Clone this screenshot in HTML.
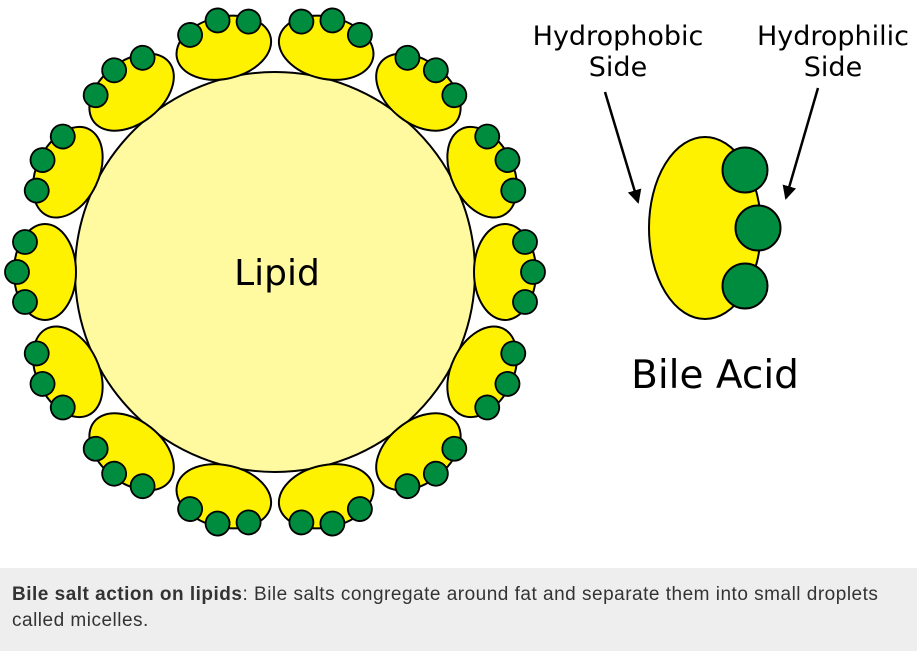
<!DOCTYPE html>
<html><head><style>
body{margin:0;width:917px;height:651px;background:#fff;overflow:hidden;font-family:"Liberation Sans",sans-serif}
.cap{position:absolute;left:0;top:568px;width:917px;height:83px;background:#eeeeee;box-sizing:border-box;padding:14px 6px 14px 12px;font-size:19px;letter-spacing:0.5px;line-height:26px;color:#333;white-space:nowrap}
</style></head><body>
<svg width="917" height="568" style="position:absolute;left:0;top:0">
<defs>
<marker id="ah" markerWidth="14" markerHeight="14" refX="12" refY="7" orient="auto" markerUnits="userSpaceOnUse"><path d="M0,0 L14,7 L0,14 Z" fill="#000"/></marker>
<g id="u">
<ellipse cx="0" cy="0" rx="31" ry="48" fill="#fff200" stroke="#000" stroke-width="2"/>
<circle cx="20" cy="-30" r="12" fill="#008c3e" stroke="#000" stroke-width="1.8"/>
<circle cx="28" cy="0" r="12" fill="#008c3e" stroke="#000" stroke-width="1.8"/>
<circle cx="20" cy="30" r="12" fill="#008c3e" stroke="#000" stroke-width="1.8"/>
</g>
</defs>
<circle cx="275" cy="272" r="200" fill="#fff9a0" stroke="#000" stroke-width="2"/>
<g transform="translate(275,272)">
<use href="#u" transform="rotate(180) translate(230,0)"/>
<use href="#u" transform="rotate(205.71) translate(230,0)"/>
<use href="#u" transform="rotate(231.43) translate(230,0)"/>
<use href="#u" transform="rotate(257.14) translate(230,0)"/>
<use href="#u" transform="rotate(282.86) translate(230,0)"/>
<use href="#u" transform="rotate(308.57) translate(230,0)"/>
<use href="#u" transform="rotate(334.29) translate(230,0)"/>
<use href="#u" transform="rotate(0) translate(230,0)"/>
<use href="#u" transform="rotate(25.71) translate(230,0)"/>
<use href="#u" transform="rotate(51.43) translate(230,0)"/>
<use href="#u" transform="rotate(77.14) translate(230,0)"/>
<use href="#u" transform="rotate(102.86) translate(230,0)"/>
<use href="#u" transform="rotate(128.57) translate(230,0)"/>
<use href="#u" transform="rotate(154.29) translate(230,0)"/>
</g>
<text x="277" y="285" font-family="DejaVu Sans, sans-serif" font-size="36" text-anchor="middle">Lipid</text>
<g transform="translate(705,228)">
<ellipse cx="0" cy="0" rx="56" ry="91" fill="#fff200" stroke="#000" stroke-width="2"/>
<circle cx="40" cy="-58" r="22.5" fill="#008c3e" stroke="#000" stroke-width="2"/>
<circle cx="53" cy="0" r="22.5" fill="#008c3e" stroke="#000" stroke-width="2"/>
<circle cx="40" cy="58" r="22.5" fill="#008c3e" stroke="#000" stroke-width="2"/>
</g>
<g font-family="DejaVu Sans, sans-serif" font-size="27" text-anchor="middle">
<text x="618" y="45">Hydrophobic</text><text x="618" y="76">Side</text>
<text x="833" y="45">Hydrophilic</text><text x="833" y="76">Side</text>
<text x="715" y="388" font-size="39">Bile Acid</text>
</g>
<line x1="605" y1="92" x2="638" y2="202" stroke="#000" stroke-width="2.5" marker-end="url(#ah)"/>
<line x1="818" y1="88" x2="786" y2="198" stroke="#000" stroke-width="2.5" marker-end="url(#ah)"/>
</svg>
<div class="cap"><b>Bile salt action on lipids</b>: Bile salts congregate around fat and separate them into small droplets<br>called micelles.</div>
</body></html>
